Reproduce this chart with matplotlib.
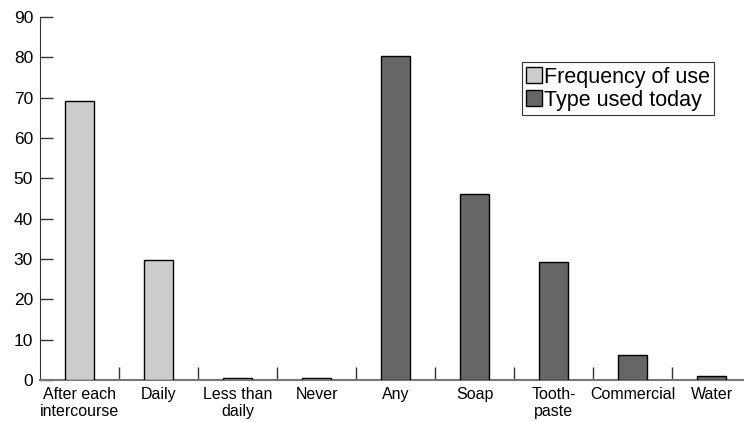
import matplotlib
matplotlib.use("Agg")
import matplotlib.pyplot as plt
from matplotlib.patches import Patch

categories = ["After each\nintercourse", "Daily", "Less than\ndaily", "Never",
              "Any", "Soap", "Tooth-\npaste", "Commercial", "Water"]
values = [69.2, 29.8, 0.5, 0.5, 80.4, 46.0, 29.3, 6.3, 1.0]
groups = ["freq", "freq", "freq", "freq", "type", "type", "type", "type", "type"]
legend_labels = ["Frequency of use", "Type used today"]
colors = {"freq": "#cccccc", "type": "#666666"}
yticks = [0, 10, 20, 30, 40, 50, 60, 70, 80, 90]

plt.rcParams['font.family'] = ['Liberation Sans', 'DejaVu Sans']

fig = plt.figure(figsize=(7.44, 4.22), dpi=100)
ax = fig.add_axes([40/744, 42/422, 704/744, 363/422])

x = list(range(len(categories)))
ax.bar(x, values, width=0.36, color=[colors[g] for g in groups],
       edgecolor="black", linewidth=1.0, zorder=3)

ax.set_xlim(-0.5, 8.41)
ax.set_ylim(0, 90)
ax.set_yticks(yticks)
ax.set_xticks(x)
ax.set_xticklabels(categories, fontsize=11.5, linespacing=1.15)
ax.set_xticks([i + 0.5 for i in range(len(categories) - 1)], minor=True)

ax.tick_params(axis='y', direction='in', length=9.5, width=1.0, color='#333333',
               labelsize=12.5, pad=5)
ax.tick_params(axis='x', which='major', length=0, pad=5)
ax.tick_params(axis='x', which='minor', direction='in', length=9.5, width=1.0,
               color='#333333')

for s in ['top', 'right']:
    ax.spines[s].set_visible(False)
ax.spines['left'].set_color('#333333')
ax.spines['bottom'].set_color('#777777')
ax.spines['bottom'].set_linewidth(1.5)

handles = [Patch(facecolor=colors["freq"], edgecolor="black"),
           Patch(facecolor=colors["type"], edgecolor="black")]
leg = ax.legend(handles, legend_labels, loc='upper left',
                bbox_to_anchor=(0.684, 0.875), fontsize=15.5, frameon=True,
                fancybox=False, edgecolor='black', handlelength=0.75,
                handleheight=0.75, handletextpad=0.1, borderpad=0.2,
                labelspacing=0.1, borderaxespad=0)
leg.get_frame().set_linewidth(0.8)

fig.savefig("out.png", dpi=100)
